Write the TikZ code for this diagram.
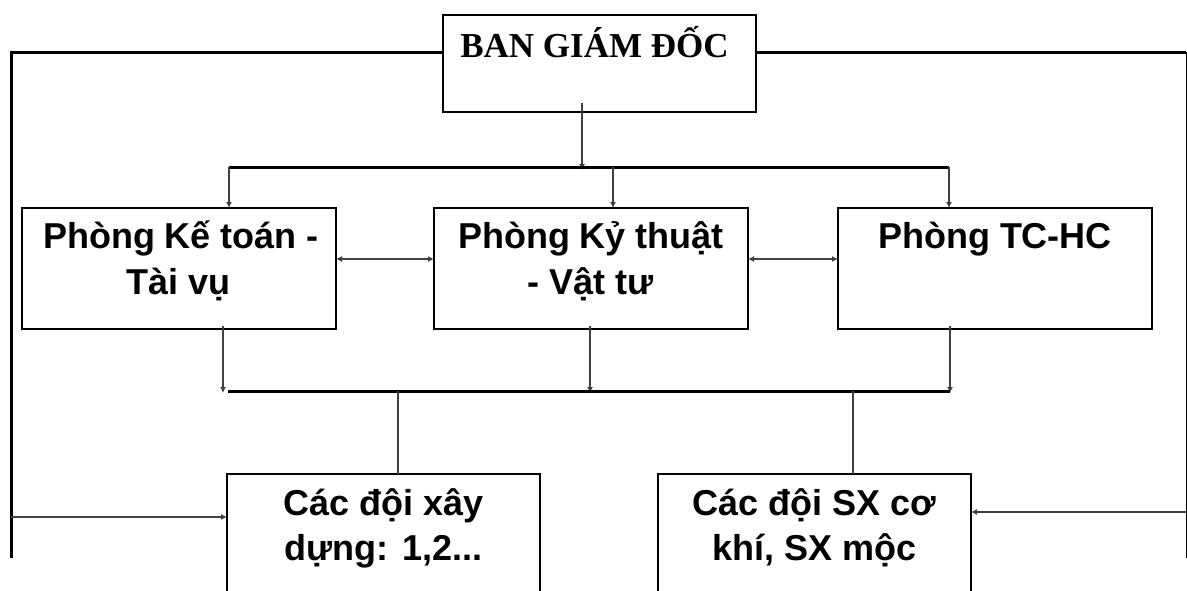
\documentclass[tikz,border=0pt]{standalone}
\usepackage{fontspec}
\setmainfont{Liberation Sans}
\newfontfamily\timesfont{Liberation Serif}
\usetikzlibrary{arrows.meta,calc}

\begin{document}
\begin{tikzpicture}[x=1pt,y=-1pt,
  unit/.style={draw=black, line width=1.6pt, inner sep=0pt, outer sep=0pt},
  lbl/.style={font=\fontsize{36}{46}\selectfont\bfseries, align=center, inner sep=0pt, anchor=north},
  toplbl/.style={font=\timesfont\fontsize{35}{44}\selectfont\bfseries, inner sep=0pt, anchor=north},
  bus/.style={draw=black, line width=3pt},
  conn/.style={draw=black!75, line width=2pt},
  tip/.tip={Latex[length=6pt,width=6pt]},
]
\useasboundingbox (0,0) rectangle (1187,590);
\clip (0,0) rectangle (1187,590);

% boxes
\node[unit, minimum width=313pt, minimum height=97pt]  (bgd) at (599.5,63.5) {};
\node[unit, minimum width=314pt, minimum height=121pt] (k1)  at (179,268.5) {};
\node[unit, minimum width=314pt, minimum height=121pt] (k2)  at (591,268.5) {};
\node[unit, minimum width=314pt, minimum height=121pt] (k3)  at (995,268.5) {};
\node[unit, minimum width=313pt, minimum height=170pt] (c4)  at (383.5,559) {};
\node[unit, minimum width=313pt, minimum height=170pt] (c5)  at (814.5,559) {};

% labels: one line per text row, baselines 46pt apart
\node[toplbl] (tbgd) at ([xshift=-5pt,yshift=-11pt]bgd.north) {\strut BAN GIÁM ĐỐC};
\node[lbl] (tk1a) at ([xshift=2pt,yshift=-8pt]k1.north) {\strut Phòng Kế toán -};
\node[lbl] (tk1b) at ([yshift=-54pt]k1.north) {\strut Tài vụ};
\node[lbl] (tk2a) at ([yshift=-8pt]k2.north) {\strut Phòng Kỷ thuật};
\node[lbl] (tk2b) at ([yshift=-54pt]k2.north) {\strut - Vật tư};
\node[lbl] (tk3)  at ([yshift=-8pt]k3.north) {\strut Phòng TC-HC};
\node[lbl] (tc4a) at ([yshift=-9pt]c4.north) {\strut Các đội xây};
\node[lbl] (tc4b) at ([yshift=-54pt]c4.north) {\strut dựng: 1,2...};
\node[lbl] (tc5a) at ([yshift=-9pt]c5.north) {\strut Các đội SX cơ};
\node[lbl] (tc5b) at ([yshift=-54pt]c5.north) {\strut khí, SX mộc};

% junction points
\coordinate (tl) at (11,52);
\coordinate (tr) at (1186,52);
\coordinate (bl) at (11,558);
\coordinate (br) at (1186,558);
\coordinate (b1L) at (229,167);
\coordinate (b1M) at (613,167);
\coordinate (b1R) at (949,167);
\coordinate (b1T) at (582,167);
\coordinate (b2L) at (223,391);
\coordinate (b2M) at (590,391);
\coordinate (b2R) at (950,391);
\coordinate (d4) at (398,391);
\coordinate (d5) at (853,391);
\coordinate (s4) at (11,517);
\coordinate (s5) at (1186,512);
\coordinate (h1) at (0,259);

% outer frame lines from the board
\draw[bus] (tl -| bgd.west) -- (tl) -- (bl);
\draw[bus] (tr -| bgd.east) -- (tr);
\draw[draw=black, line width=1pt] (tr) -- (br);

% board to the first bus
\draw[conn, -tip] ($(b1T |- bgd.south)+(0,-9)$) -- ($(b1T)+(0,3)$);
\draw[bus] (b1L) -- (b1R);
\draw[conn, -tip] (b1L) -- (b1L |- k1.north);
\draw[conn, -tip] (b1M) -- (b1M |- k2.north);
\draw[conn, -tip] (b1R) -- (b1R |- k3.north);

% links between offices
\draw[conn, tip-tip] (h1 -| k1.east) -- (h1 -| k2.west);
\draw[conn, tip-tip] (h1 -| k2.east) -- (h1 -| k3.west);

% offices to the second bus
\draw[conn, -tip] ($(b2L |- k1.south)+(0,-3)$) -- ($(b2L)+(0,2)$);
\draw[conn, -tip] ($(b2M |- k2.south)+(0,-3)$) -- ($(b2M)+(0,2)$);
\draw[conn, -tip] ($(b2R |- k3.south)+(0,-3)$) -- ($(b2R)+(0,2)$);
\draw[bus] ($(b2L)+(5,0)$) -- (b2R);

% second bus to the teams
\draw[conn] (d4) -- (d4 |- c4.north);
\draw[conn] (d5) -- (d5 |- c5.north);

% side feeds
\draw[conn, -tip] (s4) -- (s4 -| c4.west);
\draw[conn, -tip] (s5) -- (s5 -| c5.east);
\end{tikzpicture}
\end{document}
